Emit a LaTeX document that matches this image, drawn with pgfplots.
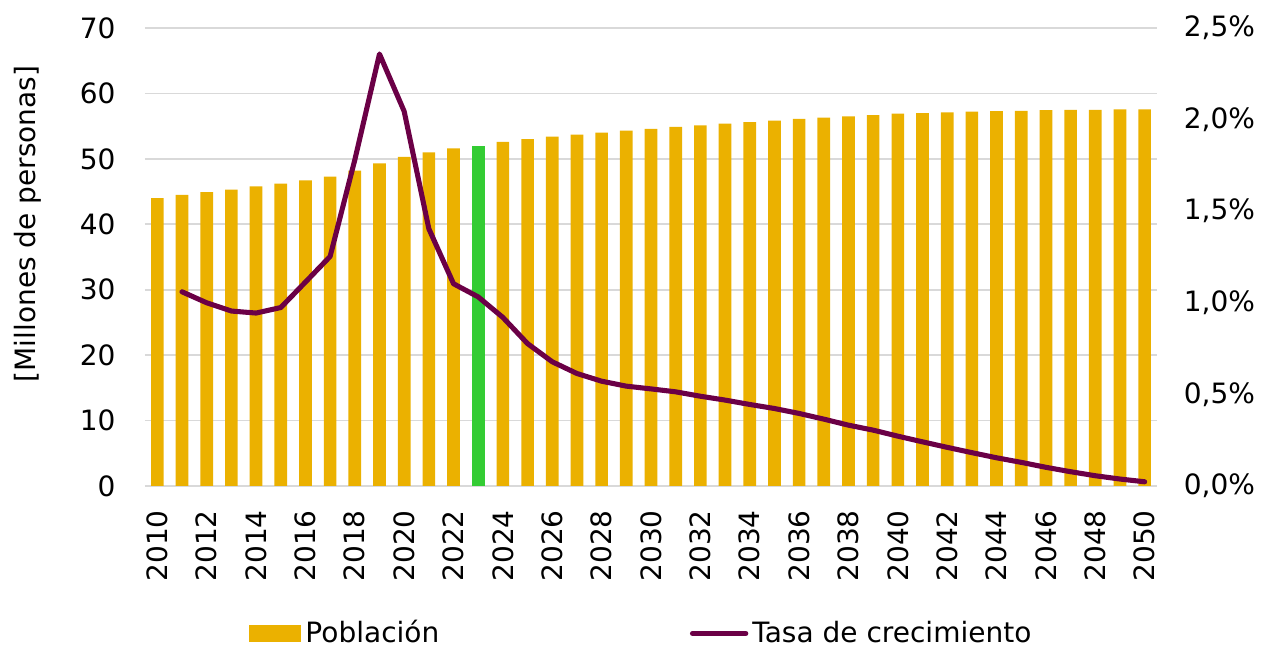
\documentclass[border=0pt]{standalone}
\usepackage{pgfplots}
\pgfplotsset{compat=1.18}
\usepackage{pgfplotstable}
\usepackage{fontspec}
\setmainfont{DejaVu Sans}
\definecolor{barc}{HTML}{EBB100}
\definecolor{greenc}{HTML}{33CC33}
\definecolor{linec}{HTML}{6B0046}
\definecolor{gridc}{HTML}{D9D9D9}
\pgfplotstableread{
year pop
2010 44.0
2011 44.5
2012 44.9
2013 45.3
2014 45.8
2015 46.2
2016 46.7
2017 47.3
2018 48.2
2019 49.3
2020 50.3
2021 51.0
2022 51.6
2024 52.6
2025 53.0
2026 53.4
2027 53.7
2028 54.0
2029 54.3
2030 54.6
2031 54.9
2032 55.1
2033 55.4
2034 55.6
2035 55.85
2036 56.1
2037 56.3
2038 56.5
2039 56.7
2040 56.9
2041 57.0
2042 57.1
2043 57.2
2044 57.3
2045 57.35
2046 57.45
2047 57.5
2048 57.5
2049 57.55
2050 57.55
}\popdata
\pgfplotstableread{
year pop
2023 52.0
}\popcur
\pgfplotstableread{
year rate
2011 1.06
2012 1.00
2013 0.955
2014 0.944
2015 0.974
2016 1.113
2017 1.253
2018 1.78
2019 2.358
2020 2.045
2021 1.404
2022 1.104
2023 1.032
2024 0.92
2025 0.777
2026 0.678
2027 0.614
2028 0.572
2029 0.545
2030 0.530
2031 0.514
2032 0.490
2033 0.469
2034 0.445
2035 0.423
2036 0.396
2037 0.365
2038 0.332
2039 0.305
2040 0.272
2041 0.241
2042 0.211
2043 0.182
2044 0.154
2045 0.129
2046 0.102
2047 0.078
2048 0.056
2049 0.038
2050 0.023
}\ratedata
\begin{document}
{\fontsize{21}{25}\selectfont
\begin{tikzpicture}
\path[use as bounding box] (0pt,0pt) rectangle (950.25pt,486.75pt);
\begin{axis}[
  at={(108.75pt,122.25pt)}, anchor=south west,
  scale only axis, width=759pt, height=343.5pt,
  xmin=2009.5, xmax=2050.5, ymin=0, ymax=70,
  ytick={0,10,...,70},
  xtick={2010,2012,...,2050},
  /pgf/number format/1000 sep={},
  /pgf/number format/assume math mode=true,
  major tick length=0pt,
  axis y line*=left, axis x line*=bottom,
  y axis line style={draw=none},
  x axis line style={gridc, line width=1.2pt, -},
  ymajorgrids, grid style={gridc, line width=1.2pt},
  xticklabel style={rotate=90, anchor=east, xshift=-11pt},
  yticklabel style={xshift=-15pt},
  ylabel={[Millones de personas]},
  ylabel style={at={(axis description cs:-0.1156,0.572)}, anchor=center},
  ybar, bar width=9.5pt, bar shift=0pt,
  legend columns=2,
  legend style={at={(axis description cs:0.103,-0.322)}, anchor=west, draw=none, fill=none, inner sep=0pt,
     /tikz/every even column/.append style={column sep=185pt}, nodes={inner sep=3pt}},
  legend cell align=left,
]
\addplot[fill=barc, draw=none, area legend,
  legend image code/.code={\fill[barc] (0pt,-6.5pt) rectangle (39pt,6.5pt);}] table[x=year,y=pop] {\popdata};
\addlegendentry{Población}
\addplot[fill=greenc, draw=none, forget plot] table[x=year,y=pop] {\popcur};
\addlegendimage{line legend, linec, line width=3.8pt, line cap=round,
  legend image code/.code={\draw[linec, line width=3.8pt, line cap=round] (0pt,0pt) -- (40pt,0pt);}}
\addlegendentry{Tasa de crecimiento}
\end{axis}
\begin{axis}[
  at={(108.75pt,122.25pt)}, anchor=south west,
  scale only axis, width=759pt, height=343.5pt,
  xmin=2009.5, xmax=2050.5, ymin=0, ymax=2.5,
  ytick={0,0.5,...,2.5},
  yticklabels={{0,0\%},{0,5\%},{1,0\%},{1,5\%},{2,0\%},{2,5\%}},
  major tick length=0pt,
  axis x line=none, axis y line*=right,
  y axis line style={draw=none},
  yticklabel style={anchor=west, xshift=13pt},
]
\addplot[linec, line width=3.8pt, line join=round, line cap=round] table[x=year,y=rate] {\ratedata};
\end{axis}
\end{tikzpicture}}
\end{document}
